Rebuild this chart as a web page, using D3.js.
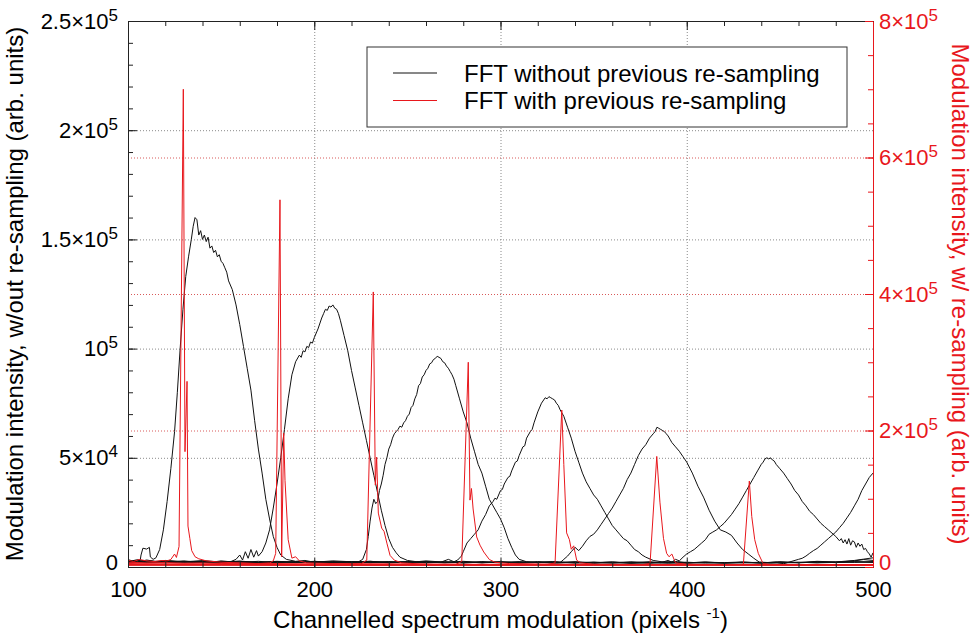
<!DOCTYPE html>
<html>
<head>
<meta charset="utf-8">
<script src="https://cdn.jsdelivr.net/npm/d3@7"></script>
<style>
  html, body { margin: 0; padding: 0; background: #fff; }
  svg { display: block; font-family: 'Liberation Sans', Arial, sans-serif; }
</style>
</head>
<body>
<div id="chart"></div>
<script>
// all intensities are in thousands (arb. units), x in pixels^-1

// FFT without previous re-sampling (left axis), one spectrum per array
const raw1 = [[100,3.4],[103,2.6],[105,3.1],[106.5,2.8],[107,5.5],[108,8.6],[110,8.2],[111.5,9],[112,4.6],[113.5,3.5],[115,4.2],[117,8],[119,17],[121,30],[123,45],[125,62],[126.5,80],[128,100],[129.5,118],[131,133],[132.5,142],[134,150],[135,156],[136,160],[137,159],[138,152],[139,154],[140,150],[141,152],[142,149],[143,151],[144,146],[145,147],[146,144],[147,145],[148,142],[149,143],[150,140],[151,139],[152,137],[153,135],[154,131],[156,127],[158,120],[160,111],[162,101],[164,91],[166,81],[168,67],[170,54],[172,43],[174,31],[176,22],[178,14],[180,9],[182,5.5],[185,3.5],[190,2.6],[195,3],[200,2.2],[210,2.8],[220,2.4],[230,2.6],[240,2.1],[250,2.5],[260,2.3],[270,1.9],[280,2.2],[290,2.0],[300,2.4],[310,1.8],[320,2.1],[330,1.9],[340,2.3],[350,1.7],[360,2.0],[370,1.8],[380,2.2],[390,1.7],[400,1.9],[410,2.1],[420,1.8],[430,2.0],[440,1.9],[450,2.2],[460,2.0],[470,2.4],[480,2.2],[490,2.8],[495,3.4],[500,3.0]];
const raw2 = [[100,2.2],[104,3.0],[108,2.4],[112,2.9],[116,2.3],[120,2.7],[125,2.1],[130,2.5],[135,2.0],[140,2.6],[145,2.2],[150,2.8],[155,2.4],[158,3.5],[160,5.5],[161.5,3.2],[163,7],[164.5,4],[166,8],[167.5,4.5],[169,7.5],[170,5],[172,7],[174,11],[176,17],[178,27],[180,38],[182,50],[184,63],[186,77],[188,88],[190,94],[192,97],[193,96],[194,99],[195,98.5],[196,101],[197,100.5],[198,103],[199,102.5],[200,105],[202,109],[204,114],[205,116],[206,118],[207,117.5],[208,119.5],[209,119],[210,120],[211,118.5],[212,118],[213,116],[214,113],[216,106],[218,99],[220,90],[222,82],[224,74],[226,66],[228,58],[230,50],[232,42],[234,34],[236,26],[238,19],[240,13],[242,9],[244,6.5],[246,4.5],[250,3],[255,2.4],[260,2.8],[270,2.2],[280,2.6],[290,2.0],[300,2.3],[310,1.9],[320,2.2],[330,1.8],[340,2.1],[350,1.9],[360,2.3],[370,1.7],[380,2.0],[390,2.2],[400,1.8],[410,2.0],[420,1.9],[430,2.1],[440,1.8],[450,2.0],[460,2.2],[470,1.9],[480,2.1],[490,2.4],[500,2.2]];
const raw3 = [[100,2.8],[105,2.2],[110,3.2],[115,2.5],[120,3.0],[130,2.4],[140,2.9],[150,2.3],[160,2.7],[170,2.1],[180,2.6],[190,2.2],[200,2.5],[210,2.0],[218,2.4],[222,2.0],[224,2.5],[226,3.5],[228,8],[229,14],[230,21],[231,27],[232,31],[233,29],[234,30],[235,35],[236,38],[237,42],[238,47],[239,50],[240,54],[241,56],[242,59],[243,61],[244,62],[245,63],[246,64.5],[247,64],[248,66],[249,67],[250,69],[251,70],[252,73],[253,74],[254,77],[255,79],[256,83],[257,84],[258,87],[259,88],[260,90],[261,91],[262,93],[263,93.5],[264,95],[265,95.5],[266,96.5],[267,96],[268,95.5],[269,94],[270,93.5],[271,92],[272,91],[273,89.5],[274,88],[275,86],[276,83],[278,77],[280,71],[282,66],[284,59],[286,53],[288,47],[290,43],[292,37],[294,31],[296,28],[298,25],[300,22],[302,18],[304,13],[306,9],[308,5.5],[310,3.5],[314,2.4],[320,2.0],[330,2.3],[340,1.9],[350,2.2],[360,1.8],[370,2.1],[380,1.7],[390,2.0],[400,2.2],[410,1.8],[420,2.0],[430,1.9],[440,2.2],[450,1.8],[460,2.1],[470,2.0],[480,2.3],[490,2.1],[500,2.5]];
const raw4 = [[100,2.5],[105,3.3],[110,2.7],[115,2.2],[120,2.9],[130,2.3],[140,2.7],[150,2.2],[160,2.6],[170,2.0],[180,2.5],[190,2.1],[200,2.6],[210,2.2],[220,2.5],[230,2.0],[240,2.4],[250,2.1],[260,2.5],[268,2.2],[272,3.5],[275,2.4],[277,3.2],[279,5],[280,7],[282,11],[284,13],[286,15],[288,17],[290,21],[292,24],[294,28],[296,30],[297,31.5],[298,31],[300,35],[301,35.5],[302,38],[304,41],[305,41.5],[306,44],[308,48],[309,48.5],[310,51],[312,55],[313,55.5],[314,59],[316,62],[317,63],[318,66],[320,71],[322,75],[324,77.5],[325,77],[326,78],[327,77.5],[328,77],[329,76.5],[330,75],[331,74],[332,72],[334,69],[336,64],[338,59],[340,53],[342,48],[344,43],[346,39],[348,36],[350,33],[352,31],[354,28],[356,25],[358,22],[360,19],[362,17],[364,15],[366,13],[368,12],[370,10],[372,8],[374,7],[376,5.5],[378,4.5],[382,3],[388,2.2],[395,2.5],[400,1.9],[410,2.3],[420,1.8],[430,2.2],[440,1.9],[450,2.4],[460,2.0],[470,2.6],[480,2.3],[490,3.0],[495,3.6],[500,4.2]];
const raw5 = [[100,2.0],[105,2.7],[110,2.1],[115,2.6],[120,2.2],[130,2.8],[140,2.0],[150,2.5],[160,2.1],[170,2.6],[180,2.0],[190,2.4],[200,1.9],[210,2.5],[220,2.1],[230,2.6],[240,2.0],[250,2.4],[260,1.9],[270,2.3],[280,2.0],[290,2.5],[300,2.1],[310,2.4],[320,2.0],[328,2.5],[332,2.0],[334,3.5],[336,5],[338,7],[340,9],[342,7.5],[344,9.5],[346,12],[348,14],[350,15],[352,17],[354,19.5],[356,22],[358,24.5],[360,27],[362,30],[364,33],[366,36],[368,40],[370,43],[372,47],[374,51],[376,54],[378,56],[380,59],[382,61],[383,62],[384,64],[385,63.5],[386,63],[387,62.5],[388,62],[389,61],[390,60],[391,58.5],[392,57],[394,55],[396,53],[398,50.5],[400,48],[403,43],[406,37],[409,32],[412,26],[415,21],[418,17],[421,16],[424,14.5],[427,11],[430,8],[433,6],[436,4],[439,2.2],[445,1.8],[450,2.2],[460,1.9],[470,2.3],[480,2.0],[490,2.4],[500,2.1]];
const raw6 = [[100,2.6],[110,2.0],[120,2.5],[130,2.1],[140,2.6],[150,2.0],[160,2.4],[170,1.9],[180,2.5],[190,2.0],[200,2.4],[210,1.9],[220,2.3],[230,2.0],[240,2.5],[250,2.1],[260,2.4],[270,2.0],[280,2.4],[290,1.9],[300,2.3],[310,2.0],[320,2.5],[330,2.1],[340,2.4],[350,2.0],[360,2.3],[370,1.9],[380,2.4],[386,2.0],[390,3.0],[392,2.2],[394,3.5],[396,2.8],[398,4.5],[400,6],[402,7],[404,8],[406,9.5],[408,11],[410,12.5],[412,15],[414,16],[416,17],[418,18.5],[420,20],[422,22],[424,24],[426,26.5],[428,29],[430,32],[432,35],[434,38],[436,41],[438,44],[440,47],[441,48],[442,49.5],[443,50],[444,49.5],[445,50],[446,49],[447,48.5],[448,47],[450,45],[452,43],[454,40.5],[456,38],[458,35],[460,33],[462,30],[464,28],[466,25.5],[468,24],[470,22],[472,20],[474,18.5],[476,17],[478,15.5],[480,14],[482,12],[483,13],[484,11],[485,12.5],[486,10.5],[487,13],[488,10],[489,12],[490,11.5],[491,9],[492,11],[493,9.5],[494,10.5],[495,8],[496,8.5],[497,7],[498,6],[499,4.5],[500,6.5]];
const raw7 = [[100,1.8],[110,2.4],[120,1.9],[130,2.5],[140,2.0],[150,2.4],[160,1.8],[170,2.3],[180,1.9],[190,2.5],[200,2.0],[210,2.3],[220,1.8],[230,2.4],[240,1.9],[250,2.3],[260,2.0],[270,2.4],[280,1.8],[290,2.3],[300,1.9],[310,2.4],[320,2.0],[330,2.3],[340,1.8],[350,2.2],[360,1.9],[370,2.4],[380,2.0],[390,2.3],[400,1.9],[410,2.2],[420,2.0],[430,2.3],[440,1.9],[448,2.2],[452,1.5],[456,2.5],[460,3.5],[462,4],[464,5],[466,6.3],[468,7.5],[470,8.5],[472,10],[474,11.5],[476,13],[478,14.5],[480,16],[482,18],[484,20],[486,22.5],[488,25],[490,28],[492,31],[494,35],[496,38],[498,41],[500,43]];

// FFT with previous re-sampling (right axis)
const res1 = [[100,10],[103,8],[106,11],[110,9],[114,8],[118,9.5],[121,9],[123,11],[125,19],[126,14],[127.4,30],[129.7,700],[130.6,169],[131.7,272],[132.2,60],[133.2,42],[134.2,24],[136,15],[138,12],[142,9],[150,7],[160,6],[170,5],[180,5],[200,4.5],[220,4],[250,4],[280,3.5],[310,3.5],[340,3],[370,3],[400,3],[430,3],[460,3],[500,3]];
const res2 = [[100,7],[110,6],[120,6.5],[130,5.5],[140,6],[150,5],[160,5.5],[170,5],[176,6],[178,9],[179.3,20],[181.6,538],[182.5,15],[183.6,196],[184.3,127],[186,40],[188,13],[190,15],[192,9],[196,6],[210,5],[240,4.5],[270,4],[300,4],[350,3.5],[400,3.5],[450,3],[500,3]];
const res3 = [[100,5],[120,4.5],[150,4.5],[180,4],[210,4],[225,4.5],[228.2,10],[231.7,403],[232.8,120],[233.5,161],[234.4,79],[236.2,57],[237.5,52],[239,35],[240.7,17],[243,10],[247,6],[260,4],[290,3.5],[330,3.5],[380,3],[430,3],[500,3]];
const res4 = [[100,4],[140,4],[180,3.5],[220,3.5],[260,3.5],[276,4],[279.2,8],[282.7,300],[283.6,98],[284.4,115],[285.3,85],[287.2,44],[289,32],[291,22],[294,11],[297,7],[305,5],[330,4],[370,3.5],[420,3.5],[460,3],[500,3]];
const res5 = [[100,3.5],[150,3.5],[200,3],[250,3],[300,3],[325,3.5],[329.3,6],[332.9,230],[334,150],[335.5,50],[337,40],[338,26],[339.3,31],[340.9,10],[343,6],[350,4],[380,3.5],[420,3],[460,3],[500,3]];
const res6 = [[100,3],[150,3],[200,2.5],[250,2.5],[300,2.5],[350,3],[376,3.5],[380.3,5],[383.9,162],[385.6,95],[387.5,42],[389.2,20],[390.5,15],[392,19],[394,6],[400,4],[430,3],[470,3],[500,3]];
const res7 = [[100,2.5],[150,2.5],[200,2.5],[250,2.5],[300,2.5],[350,2.5],[400,2.5],[425,3],[430.4,4],[433.6,126],[434.9,74],[436.5,40],[438.4,20],[441,5],[445,3.5],[470,3],[500,3]];

// axes
const xTicks = [100, 200, 300, 400, 500];
const leftTicks = [0, 50, 100, 150, 200, 250];
const leftTickLabels = [['0', ''], ['5×10', '4'], ['10', '5'], ['1.5×10', '5'], ['2×10', '5'], ['2.5×10', '5']];
const rightTicks = [0, 200, 400, 600, 800];
const rightTickLabels = [['0', ''], ['2×10', '5'], ['4×10', '5'], ['6×10', '5'], ['8×10', '5']];

const legendLabels = ['FFT without previous re-sampling', 'FFT with previous re-sampling'];

const RED = '#e8171c';

const availableWidth = 976, availableHeight = 637;
const margin = { top: 21, right: 103, bottom: 70, left: 128 },
  width = availableWidth - margin.left - margin.right,
  height = availableHeight - margin.top - margin.bottom;

const svg = d3.select('#chart').append('svg')
  .attr('width', availableWidth)
  .attr('height', availableHeight);

const g = svg.append('g').attr('transform', `translate(${margin.left},${margin.top})`);

const x = d3.scaleLinear().domain([100, 500]).range([0, width]);
const y = d3.scaleLinear().domain([0, 250]).range([height, 0]);
const y2 = d3.scaleLinear().domain([0, 800]).range([height, 0]);

// grid
g.append('g')
    .call(d3.axisLeft(y).tickValues(leftTicks.slice(1, -1)).tickSize(-width).tickFormat(''))
    .call(s => s.select('.domain').remove())
  .selectAll('line')
    .attr('stroke', '#8a8a8a')
    .attr('stroke-dasharray', '1,2');

g.append('g')
    .call(d3.axisLeft(y2).tickValues(rightTicks.slice(1, -1)).tickSize(-width).tickFormat(''))
    .call(s => s.select('.domain').remove())
  .selectAll('line')
    .attr('stroke', '#d85a5a')
    .attr('stroke-dasharray', '1,2');

g.append('g')
    .attr('transform', `translate(0,${height})`)
    .call(d3.axisBottom(x).tickValues(xTicks.slice(1, -1)).tickSize(-height).tickFormat(''))
    .call(s => s.select('.domain').remove())
  .selectAll('line')
    .attr('stroke', '#8a8a8a')
    .attr('stroke-dasharray', '1,2');

// spectra
g.append('clipPath').attr('id', 'plot-clip')
  .append('rect').attr('width', width).attr('height', height);

const plot = g.append('g').attr('clip-path', 'url(#plot-clip)');

const rawLine = d3.line().x(d => x(d[0])).y(d => y(d[1]));
const resLine = d3.line().x(d => x(d[0])).y(d => y2(d[1]));

[raw1, raw2, raw3, raw4, raw5, raw6, raw7].forEach((spectrum) => {
  plot.append('path')
    .datum(spectrum)
    .attr('fill', 'none')
    .attr('stroke', '#111')
    .attr('stroke-width', 1)
    .attr('stroke-linejoin', 'round')
    .attr('d', rawLine);
});

[res1, res2, res3, res4, res5, res6, res7].forEach((spectrum) => {
  plot.append('path')
    .datum(spectrum)
    .attr('fill', 'none')
    .attr('stroke', RED)
    .attr('stroke-width', 1)
    .attr('stroke-linejoin', 'round')
    .attr('d', resLine);
});

// axes with inward ticks
const powerLabel = (labels, supSize) => function (d, i) {
  const [base, exp] = labels[i];
  const text = d3.select(this).text(null);
  // the zero label sits a little higher so it clears the x tick labels
  if (d === 0) text.attr('y', -5);
  text.append('tspan').text(base);
  if (exp) text.append('tspan').attr('dy', -8).attr('font-size', supSize).text(exp);
};

const styleAxis = (s, colour) => {
  s.attr('font-family', null).attr('font-size', 22);
  s.select('.domain').attr('stroke', colour);
  s.selectAll('line').attr('stroke', colour);
  s.selectAll('text').attr('fill', colour);
};

// minor ticks
g.append('g')
    .call(d3.axisLeft(y).ticks(25).tickSize(-5).tickFormat(''))
    .call(s => styleAxis(s, '#222'));
g.append('g')
    .call(d3.axisTop(x).ticks(20).tickSize(-5).tickFormat(''))
    .call(s => styleAxis(s, '#222'));
g.append('g')
    .attr('transform', `translate(0,${height})`)
    .call(d3.axisBottom(x).ticks(20).tickSize(-5).tickFormat(''))
    .call(s => styleAxis(s, '#222'));
g.append('g')
    .attr('transform', `translate(${width},0)`)
    .call(d3.axisRight(y2).ticks(16).tickSize(-5).tickFormat(''))
    .call(s => styleAxis(s, RED));

// major ticks
g.append('g')
    .call(d3.axisLeft(y).tickValues(leftTicks).tickSizeInner(-9).tickSizeOuter(0).tickPadding(10))
    .call(s => styleAxis(s, '#222'))
  .selectAll('.tick text')
    .attr('fill', '#000')
    .each(powerLabel(leftTickLabels, 17));

g.append('g')
    .call(d3.axisTop(x).tickValues(xTicks).tickSizeInner(-9).tickSizeOuter(0).tickFormat(''))
    .call(s => styleAxis(s, '#222'));

g.append('g')
    .attr('transform', `translate(0,${height})`)
    .call(d3.axisBottom(x).tickValues(xTicks).tickSizeInner(-9).tickSizeOuter(0).tickPadding(14))
    .call(s => styleAxis(s, '#222'))
  .selectAll('.tick text')
    .attr('fill', '#000');

g.append('g')
    .attr('transform', `translate(${width},0)`)
    .call(d3.axisRight(y2).tickValues(rightTicks).tickSizeInner(-8).tickSizeOuter(0).tickPadding(6))
    .call(s => styleAxis(s, RED))
  .selectAll('.tick text')
    .each(powerLabel(rightTickLabels, 17));

// axis titles
svg.append('text')
  .attr('transform', `translate(23,${margin.top + height / 2}) rotate(-90)`)
  .attr('text-anchor', 'middle')
  .attr('font-size', 24)
  .attr('fill', '#000')
  .text('Modulation intensity, w/out re-sampling (arb. units)');

svg.append('text')
  .attr('transform', `translate(952,${margin.top + height / 2}) rotate(90)`)
  .attr('text-anchor', 'middle')
  .attr('font-size', 24)
  .attr('fill', RED)
  .text('Modulation intensity, w/ re-sampling (arb. units)');

const xTitle = svg.append('text')
  .attr('x', margin.left + width / 2)
  .attr('y', 628)
  .attr('text-anchor', 'middle')
  .attr('font-size', 24)
  .attr('fill', '#000');
xTitle.append('tspan').text('Channelled spectrum modulation (pixels ');
xTitle.append('tspan').attr('font-size', 15).attr('dy', -10).text('-1');
xTitle.append('tspan').attr('dy', 10).text(')');

// legend
const legend = svg.append('g').attr('transform', 'translate(367,47)');
legend.append('rect')
  .attr('width', 480)
  .attr('height', 80)
  .attr('fill', '#fff')
  .attr('stroke', '#333')
  .attr('stroke-width', 1);

legendLabels.forEach((label, i) => {
  const row = legend.append('g').attr('transform', `translate(0,${26 + i * 27.5})`);
  row.append('line')
    .attr('x1', 26).attr('x2', 70)
    .attr('stroke', i === 0 ? '#111' : RED)
    .attr('stroke-width', 1);
  row.append('text')
    .attr('x', 97)
    .attr('dy', '0.36em')
    .attr('font-size', 24)
    .attr('fill', '#000')
    .text(label);
});
</script>
</body>
</html>
